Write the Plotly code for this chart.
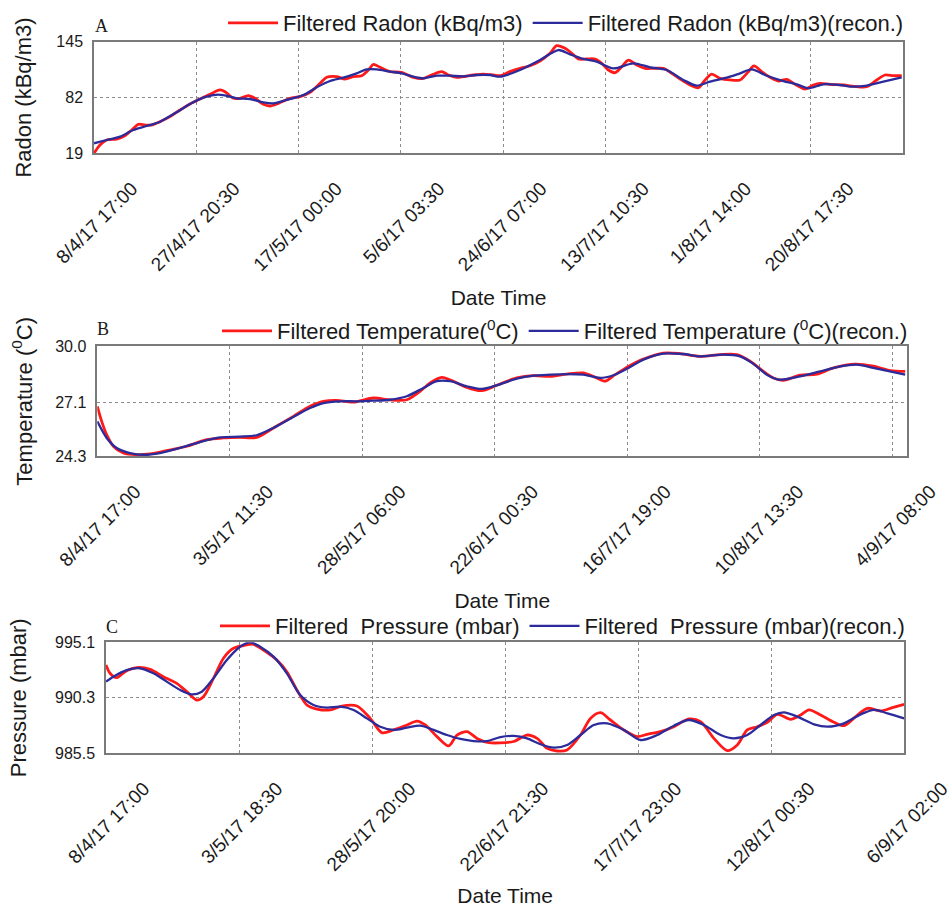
import plotly.graph_objects as go
import pandas as pd

# ---------------- data (days since 8/4/17 17:00) ----------------
radon_days = [0, 1.12, 2.37, 4.24, 5.49, 7.05, 8.30, 9.54, 10.79, 12.35, 14.22, 16.10, 17.97, 19.84,
              21.71, 23.58, 24.52, 26.08, 27.33, 28.88, 30.13, 31.69, 32.94, 34.50, 36.68, 38.55,
              40.43, 42.30, 43.55, 45.42, 46.98, 48.54, 50.10, 51.35, 52.28, 53.53, 55.40, 57.58,
              59.77, 61.64, 63.51, 65.07, 66.32, 67.88, 71.00, 72.87, 74.74, 75.99, 77.86, 79.73,
              81.60, 83.47, 85.34, 86.59, 88.15, 89.40, 90.65, 92.21, 93.77, 95.02, 96.26, 97.51,
              98.76, 100.01, 101.57, 103.13, 104.69, 106.56, 108.12, 109.68, 111.55, 113.11, 114.36,
              115.60, 117.16, 119.03, 120.90, 122.46, 123.52, 124.96, 126.52, 128.08, 129.64, 131.20,
              133.07, 134.63, 135.88, 137.75, 140.24, 142.74, 144.61, 146.48, 148.04, 149.60, 151.16]
radon_filtered = [19.0, 28.4, 34.0, 35.1, 37.8, 45.3, 51.7, 50.9, 50.9, 54.7, 60.4, 67.9, 74.7, 80.3,
                  85.6, 90.5, 88.6, 81.1, 81.1, 84.1, 81.1, 74.3, 72.4, 75.4, 81.1, 82.9,
                  87.8, 98.0, 104.8, 105.5, 102.9, 105.5, 106.6, 113.0, 119.4, 116.1, 111.2, 110.4,
                  104.8, 103.6, 108.2, 111.2, 107.4, 104.8, 107.4, 108.5, 107.4, 106.6, 111.2, 114.9,
                  117.9, 123.2, 131.9, 140.5, 137.5, 131.9, 125.5, 125.5, 125.5, 120.6, 113.0, 110.0,
                  116.8, 124.3, 118.7, 114.9, 114.9, 114.9, 109.3, 102.9, 96.1, 93.1, 101.8,
                  108.5, 103.6, 101.8, 101.8, 111.2, 117.6, 111.2, 104.8, 100.6, 102.5, 96.9,
                  91.6, 96.1, 98.0, 96.9, 96.1, 94.2, 94.2, 101.8, 107.4, 106.6, 106.6]

radon_rec_days = [0, 2.37, 4.87, 7.36, 9.86, 12.35, 15.47, 17.97, 20.46, 22.33, 24.21, 26.70, 29.20,
                  31.69, 33.56, 36.06, 39.18, 41.68, 44.17, 46.66, 49.16, 51.03, 52.91, 55.40, 57.58,
                  59.77, 61.64, 64.13, 66.63, 69.12, 71.62, 74.12, 75.99, 79.73, 83.47, 86.90, 89.09,
                  91.58, 94.08, 97.20, 100.94, 104.06, 107.18, 110.30, 112.79, 115.29, 118.41, 120.90,
                  123.09, 125.90, 129.02, 131.51, 133.70, 136.50, 139.62, 142.12, 144.61, 147.73, 151.16]
radon_recon = [30.3, 34.0, 37.8, 45.3, 49.8, 54.7, 65.3, 74.7, 81.8, 84.8, 84.8, 81.1, 80.3,
               76.5, 75.4, 79.2, 84.8, 93.5, 100.6, 104.4, 109.3, 113.8, 113.8, 111.2, 109.3,
               105.5, 103.6, 106.6, 106.6, 105.9, 107.4, 107.4, 105.5, 113.0, 124.3, 135.6, 130.7,
               125.5, 122.4, 114.9, 120.6, 116.1, 113.0, 101.8, 95.4, 99.9, 104.4, 109.3,
               113.8, 106.6, 100.6, 96.9, 92.4, 96.9, 96.1, 94.2, 95.4, 99.9, 104.8]

temp_days = [0, 0.82, 1.75, 3.00, 4.87, 7.36, 9.85, 12.97, 16.71, 20.45, 23.56, 26.68, 29.79, 32.91,
             36.65, 39.77, 42.26, 44.75, 47.87, 51.60, 54.72, 57.84, 60.33, 62.20, 64.38, 66.56,
             69.05, 71.86, 74.66, 78.40, 81.51, 84.63, 87.75, 90.86, 93.36, 94.92, 96.78, 99.28,
             102.08, 105.82, 108.93, 112.67, 116.41, 119.53, 122.02, 124.51, 126.38, 128.25,
             131.37, 134.49, 137.60, 141.65, 145.08, 148.20, 151.00]
temp_filtered = [26.89, 26.11, 25.42, 24.82, 24.47, 24.38, 24.42, 24.59, 24.82, 25.16, 25.25, 25.28,
                 25.28, 25.77, 26.37, 26.89, 27.15, 27.20, 27.11, 27.32, 27.22, 27.23, 27.67, 28.10,
                 28.39, 28.19, 27.87, 27.70, 27.98, 28.36, 28.48, 28.44, 28.56, 28.62, 28.36, 28.19,
                 28.53, 28.96, 29.34, 29.65, 29.62, 29.48, 29.57, 29.57, 29.23, 28.70, 28.36, 28.24,
                 28.50, 28.56, 28.88, 29.08, 28.97, 28.74, 28.70]

temp_rec_days = [0, 1.75, 3.62, 6.11, 8.61, 11.72, 15.46, 19.20, 22.94, 26.68, 29.79, 32.91, 36.65,
                 39.77, 42.26, 45.37, 48.49, 51.60, 54.72, 57.84, 60.95, 63.45, 65.94, 69.05, 71.86,
                 74.66, 78.40, 81.51, 84.63, 87.75, 90.86, 93.98, 96.47, 99.28, 102.08, 105.82,
                 109.56, 112.67, 117.03, 120.15, 122.64, 125.14, 127.63, 131.37, 135.11, 138.85,
                 141.96, 145.70, 151.00]
temp_recon = [26.11, 25.25, 24.73, 24.47, 24.38, 24.47, 24.73, 25.04, 25.28, 25.32, 25.39, 25.77, 26.34,
              26.80, 27.06, 27.15, 27.15, 27.18, 27.23, 27.41, 27.84, 28.19, 28.19, 27.93, 27.79,
              27.98, 28.32, 28.48, 28.53, 28.56, 28.53, 28.36, 28.50, 28.88, 29.31, 29.62,
              29.60, 29.48, 29.57, 29.48, 29.09, 28.53, 28.27, 28.44, 28.70, 28.96,
              29.05, 28.84, 28.53]

pres_days = [0, 0.75, 2.01, 3.58, 5.78, 8.30, 10.81, 13.33, 15.21, 17.10, 18.35, 20.24, 22.13, 24.01,
             25.90, 27.78, 29.67, 32.19, 34.07, 35.96, 37.84, 39.73, 42.24, 44.44, 47.27, 49.79,
             51.99, 54.18, 56.70, 58.59, 60.16, 62.36, 64.56, 66.13, 68.02, 69.90, 72.10, 74.30,
             76.81, 79.33, 81.22, 83.10, 84.99, 86.87, 89.39, 91.27, 93.16, 95.04, 97.56, 100.07,
             101.96, 104.47, 106.99, 109.82, 112.02, 114.53, 117.05, 118.93, 120.82, 122.70,
             124.59, 126.47, 128.99, 130.87, 132.44, 134.64, 137.16, 139.04, 141.56, 143.45,
             145.96, 148.16, 150.36]
pres_filtered = [993.14, 992.42, 992.04, 992.56, 992.91, 992.76, 992.13, 991.55, 990.83, 990.11, 990.40,
                 991.98, 993.72, 994.58, 994.81, 994.93, 994.43, 993.57, 992.56, 990.98, 989.68,
                 989.33, 989.25, 989.59, 989.59, 988.52, 987.28, 987.52, 987.95, 988.29, 987.95,
                 986.94, 986.14, 987.08, 987.37, 986.79, 986.42, 986.40, 986.52, 987.08, 986.79,
                 985.93, 985.70, 985.79, 987.08, 988.52, 989.01, 988.38, 987.52, 986.94, 987.14,
                 987.37, 987.80, 988.47, 988.24, 986.79, 985.73, 986.22, 987.52, 987.80, 988.18,
                 988.87, 988.44, 988.81, 989.25, 988.81, 988.18, 987.89, 988.81, 989.39, 989.16,
                 989.45, 989.74]

pres_rec_days = [0, 1.38, 3.90, 6.41, 8.93, 11.44, 13.96, 16.16, 18.04, 20.24, 22.76, 25.27, 27.16,
                 29.04, 31.56, 34.07, 36.59, 39.10, 41.62, 44.13, 46.64, 49.16, 51.67, 54.18, 56.70,
                 59.21, 61.73, 64.24, 66.76, 69.27, 71.79, 74.30, 76.81, 79.33, 81.85, 84.36, 86.87,
                 89.39, 91.90, 94.42, 97.56, 100.70, 103.84, 106.99, 109.82, 112.65, 115.79, 118.30,
                 120.82, 123.33, 125.85, 127.73, 130.25, 133.39, 135.90, 139.04, 142.19, 144.70,
                 147.22, 150.36]
pres_recon = [991.70, 992.13, 992.70, 992.85, 992.42, 991.70, 990.98, 990.60, 990.83, 991.98, 993.57,
              994.72, 995.10, 994.72, 993.86, 992.42, 990.54, 989.68, 989.45, 989.53, 989.25, 988.52,
              987.80, 987.52, 987.72, 987.89, 987.52, 987.08, 986.74, 986.56, 986.56, 986.90, 987.00,
              986.79, 986.28, 985.99, 986.22, 987.08, 987.95, 988.09, 987.52, 986.65, 987.08, 987.89,
              988.38, 987.95, 987.08, 986.79, 987.08, 987.95, 988.81, 989.04, 988.67, 988.01, 987.80,
              988.09, 988.87, 989.25, 988.96, 988.52]

radon_ticks = ["8/4/17 17:00", "27/4/17 20:30", "17/5/17 00:00", "5/6/17 03:30",
               "24/6/17 07:00", "13/7/17 10:30", "1/8/17 14:00", "20/8/17 17:30"]
temp_ticks = ["8/4/17 17:00", "3/5/17 11:30", "28/5/17 06:00", "22/6/17 00:30",
              "16/7/17 19:00", "10/8/17 13:30", "4/9/17 08:00"]
pres_ticks = ["8/4/17 17:00", "3/5/17 18:30", "28/5/17 20:00", "22/6/17 21:30",
              "17/7/17 23:00", "12/8/17 00:30", "6/9/17 02:00"]

radon_yticks = [19, 82, 145]
temp_yticks = [24.3, 27.1, 30.0]
pres_yticks = [985.5, 990.3, 995.1]

START = pd.Timestamp("2017-04-08 17:00")


def tick_days(labels):
    return [(pd.to_datetime(t, format="%d/%m/%y %H:%M") - START) / pd.Timedelta(days=1) for t in labels]


# ---------------- styling ----------------
W, H = 951, 907
RED = "#ff1a1a"
BLUE = "#2b2b9c"
SANS = "Liberation Sans, Arial, sans-serif"
SERIF = "Liberation Serif, Times New Roman, serif"
TXT = "#1a1a1a"


def px_x(a, b):
    return [a / W, b / W]


def px_y(top, bottom):
    return [1 - bottom / H, 1 - top / H]


fig = go.Figure()

panels = [
    dict(ax="", days=radon_days, f=radon_filtered, rdays=radon_rec_days, r=radon_recon,
         nf="Filtered Radon (kBq/m3)", nr="Filtered Radon (kBq/m3)(recon.)", legend="legend"),
    dict(ax="2", days=temp_days, f=temp_filtered, rdays=temp_rec_days, r=temp_recon,
         nf="Filtered Temperature(<sup>0</sup>C)", nr="Filtered Temperature (<sup>0</sup>C)(recon.)",
         legend="legend2"),
    dict(ax="3", days=pres_days, f=pres_filtered, rdays=pres_rec_days, r=pres_recon,
         nf="Filtered\u00a0 Pressure (mbar)", nr="Filtered\u00a0 Pressure (mbar)(recon.)", legend="legend3"),
]

for p in panels:
    fig.add_trace(go.Scatter(x=p["days"], y=p["f"], mode="lines", name=p["nf"],
                             line=dict(color=RED, width=2.8, shape="spline", smoothing=0.8),
                             xaxis="x" + p["ax"], yaxis="y" + p["ax"], legend=p["legend"]))
    fig.add_trace(go.Scatter(x=p["rdays"], y=p["r"], mode="lines", name=p["nr"],
                             line=dict(color=BLUE, width=2.3, shape="spline", smoothing=0.8),
                             xaxis="x" + p["ax"], yaxis="y" + p["ax"], legend=p["legend"]))


def xaxis(domain, rng, labels, anchor):
    return dict(domain=domain, range=rng, anchor=anchor, tickvals=tick_days(labels), ticktext=labels,
                tickangle=-45, tickfont=dict(family=SANS, size=19, color=TXT),
                showgrid=True, gridcolor="#8c8c8c", griddash="dot", gridwidth=1,
                showline=True, mirror=True, linecolor="#7a7a7a", linewidth=1.5,
                zeroline=False, ticks="", automargin=False, ticklabeloverflow="allow",
                ticklabelshift=38, ticklabelstandoff=15,
                title=dict(text="Date Time", standoff=16, font=dict(family=SANS, size=21, color=TXT)))


def yaxis(domain, rng, vals, text, anchor, title, standoff):
    return dict(domain=domain, range=rng, anchor=anchor, tickvals=vals, ticktext=text,
                tickfont=dict(family=SANS, size=16, color=TXT),
                showgrid=True, gridcolor="#8c8c8c", griddash="dot", gridwidth=1,
                showline=True, mirror=True, linecolor="#7a7a7a", linewidth=1.5,
                zeroline=False, ticks="", automargin=False, ticklabelstandoff=6,
                title=dict(text=title, standoff=standoff, font=dict(family=SANS, size=22, color=TXT)))


fig.update_layout(
    width=W, height=H,
    margin=dict(l=0, r=0, t=0, b=0),
    paper_bgcolor="white", plot_bgcolor="white",
    xaxis=xaxis(px_x(94, 903), [0, 151.4], radon_ticks, "y"),
    yaxis=yaxis(px_y(41.7, 153.3), [19, 145], radon_yticks, [str(v) for v in radon_yticks], "x",
                "Radon (kBq/m3)", 19),
    xaxis2=xaxis(px_x(97.3, 907.3), [0, 151.4], temp_ticks, "y2"),
    yaxis2=yaxis(px_y(346.3, 456.3), [24.3, 30.0], temp_yticks, [f"{v:.1f}" for v in temp_yticks], "x2",
                 "Temperature (<sup>0</sup>C)", 17),
    xaxis3=xaxis(px_x(106, 904.3), [0, 150.4], pres_ticks, "y3"),
    yaxis3=yaxis(px_y(642.3, 753.3), [985.5, 995.1], pres_yticks, [f"{v:.1f}" for v in pres_yticks], "x3",
                 "Pressure (mbar)", 22),
)

leg_common = dict(orientation="h", xanchor="right", yanchor="middle", bgcolor="rgba(0,0,0,0)",
                  borderwidth=0, itemwidth=50, tracegroupgap=0,
                  font=dict(family=SANS, size=22, color=TXT))
fig.update_layout(
    legend=dict(x=909 / W, y=1 - 23 / H, **leg_common),
    legend2=dict(x=913 / W, y=1 - 331 / H, **leg_common),
    legend3=dict(x=910 / W, y=1 - 626 / H, **leg_common),
)

for letter, x, y in [("A", 101, 26), ("B", 103, 329), ("C", 112, 627)]:
    fig.add_annotation(text=letter, x=x / W, y=1 - y / H, xref="paper", yref="paper",
                       showarrow=False, xanchor="center", yanchor="middle",
                       font=dict(family=SERIF, size=18, color=TXT))

fig.write_html("out.html", config={"displayModeBar": False},
               post_script="document.body.style.margin='0';document.body.style.overflow='hidden';")
